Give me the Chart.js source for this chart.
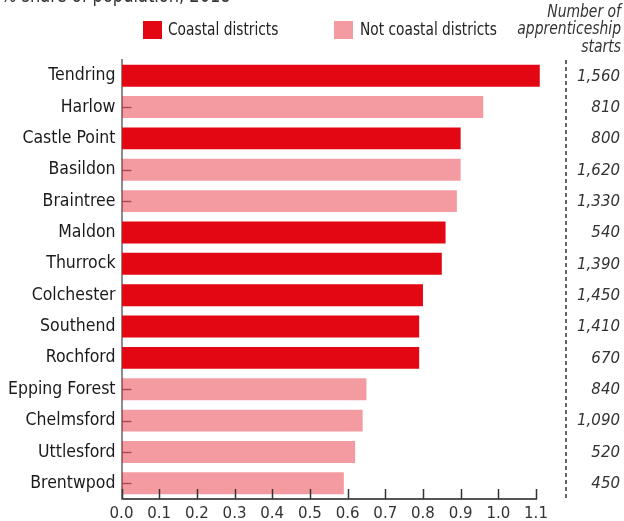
<!DOCTYPE html>
<html>
<head>
<meta charset="utf-8">
<script src="https://cdn.jsdelivr.net/npm/chart.js@4.4.1/dist/chart.umd.min.js"></script>
<style>
  html, body { margin: 0; padding: 0; background: #fff; }
  #wrap { width: 624px; height: 521px; position: relative; }
</style>
</head>
<body>
<div id="wrap"><canvas id="c" width="624" height="521"></canvas></div>
<script>
// ---- data ----
const categories = ['Tendring', 'Harlow', 'Castle Point', 'Basildon', 'Braintree', 'Maldon', 'Thurrock',
  'Colchester', 'Southend', 'Rochford', 'Epping Forest', 'Chelmsford', 'Uttlesford', 'Brentwpod'];
const shares = [1.11, 0.96, 0.90, 0.90, 0.89, 0.86, 0.85, 0.80, 0.79, 0.79, 0.65, 0.64, 0.62, 0.59];
const coastal = [true, false, true, false, false, true, true, true, true, true, false, false, false, false];
const apprenticeshipStarts = ['1,560', '810', '800', '1,620', '1,330', '540', '1,390', '1,450', '1,410',
  '670', '840', '1,090', '520', '450'];
const legendLabels = ['Coastal districts', 'Not coastal districts'];
const startsHeader = ['Number of', 'apprenticeship', 'starts'];
const titleText = '% share of population, 2018';
const xMin = 0, xMax = 1.1, xStep = 0.1;

// ---- styles ----
const RED = '#E30613';
const PINK = 'rgba(227,6,19,0.4)';
const NARROW = '"Liberation Sans Narrow", "DejaVu Sans Condensed", "Liberation Sans", sans-serif';
const VERD = '"DejaVu Sans", Verdana, sans-serif';

function squeezedText(ctx, text, x, y, font, sx, align) {
  ctx.save();
  ctx.font = font;
  ctx.textAlign = align;
  ctx.translate(x, y);
  ctx.scale(sx, 1);
  ctx.fillText(text, 0, 0);
  ctx.restore();
}

const extras = {
  id: 'extras',
  beforeDatasetsDraw(chart) {
    const ctx = chart.ctx, y = chart.scales.y, ca = chart.chartArea;
    ctx.save();
    ctx.strokeStyle = '#8a7a7a';
    ctx.lineWidth = 1.5;
    categories.forEach((c, i) => {
      const py = Math.round(y.getPixelForValue(i)) + 0.5;
      ctx.beginPath();
      ctx.moveTo(ca.left, py);
      ctx.lineTo(ca.left + 10, py);
      ctx.stroke();
    });
    ctx.restore();
  },
  afterDatasetsDraw(chart) {
    const ctx = chart.ctx, x = chart.scales.x, y = chart.scales.y, ca = chart.chartArea;
    ctx.save();
    // x ticks pointing upward
    ctx.strokeStyle = '#333';
    ctx.lineWidth = 1.5;
    x.ticks.forEach(t => {
      const px = Math.round(x.getPixelForValue(t.value)) + 0.5;
      ctx.beginPath();
      ctx.moveTo(px, ca.bottom);
      ctx.lineTo(px, ca.bottom - 10);
      ctx.stroke();
    });
    // dashed separator
    ctx.setLineDash([4, 3]);
    ctx.strokeStyle = '#333';
    ctx.lineWidth = 1.5;
    ctx.beginPath();
    ctx.moveTo(566, ca.top);
    ctx.lineTo(566, ca.bottom);
    ctx.stroke();
    ctx.setLineDash([]);
    // apprenticeship starts
    ctx.fillStyle = '#333';
    ctx.font = 'italic 15px ' + VERD;
    ctx.textAlign = 'right';
    ctx.textBaseline = 'middle';
    apprenticeshipStarts.forEach((s, i) => {
      ctx.fillText(s, 620, y.getPixelForValue(i) + 1);
    });
    // header
    startsHeader.forEach((s, i) =>
      squeezedText(ctx, s, 621, 12 + i * 17.5, 'italic 18px ' + NARROW, 0.86, 'right'));
    // legend
    ctx.fillStyle = RED;
    ctx.fillRect(143, 21, 19, 18);
    ctx.fillStyle = PINK;
    ctx.fillRect(334, 21, 19, 18);
    ctx.fillStyle = '#222';
    squeezedText(ctx, legendLabels[0], 168, 30, '18px ' + NARROW, 0.85, 'left');
    squeezedText(ctx, legendLabels[1], 360, 30, '18px ' + NARROW, 0.85, 'left');
    // cut-off title
    ctx.textBaseline = 'alphabetic';
    ctx.fillStyle = '#333';
    squeezedText(ctx, titleText, 1, 2, '21px ' + NARROW, 0.86, 'left');
    ctx.restore();
  }
};

new Chart(document.getElementById('c'), {
  type: 'bar',
  data: {
    labels: categories,
    datasets: [{
      data: shares,
      backgroundColor: coastal.map(c => c ? RED : PINK),
      borderWidth: 0,
      barPercentage: 0.7,
      categoryPercentage: 1.0,
      clip: false
    }]
  },
  options: {
    indexAxis: 'y',
    responsive: false,
    animation: false,
    devicePixelRatio: 1,
    layout: { padding: { left: 0, right: 88, top: 60, bottom: 0 } },
    plugins: { legend: { display: false }, tooltip: { enabled: false } },
    scales: {
      x: {
        min: xMin, max: xMax,
        ticks: {
          stepSize: xStep,
          callback: v => Number(v).toFixed(1),
          font: { family: VERD, size: 15 },
          color: '#333',
          padding: 6,
          maxRotation: 0,
          autoSkip: false
        },
        grid: { display: true, drawOnChartArea: false, drawTicks: false },
        border: { display: true, color: '#555', width: 2 },
        afterFit: s => { s.height = 22; }
      },
      y: {
        ticks: {
          font: { family: NARROW, size: 17.5 },
          color: '#1a1a1a',
          padding: 6,
          autoSkip: false
        },
        grid: { display: true, drawOnChartArea: false, drawTicks: false },
        border: { display: true, color: '#8c8c8c', width: 2 },
        afterFit: s => { s.width = 121.5; }
      }
    }
  },
  plugins: [extras]
});
</script>
</body>
</html>
